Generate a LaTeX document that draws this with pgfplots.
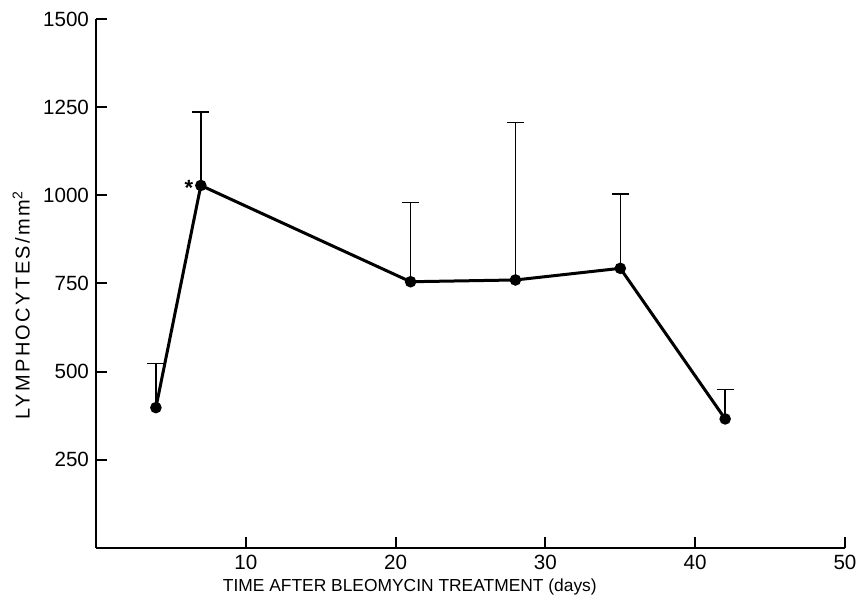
\documentclass[border=0pt]{standalone}
\usepackage{fontspec}
\setmainfont{Liberation Sans}
\usepackage{pgfplots}
\pgfplotsset{compat=1.18}
\begin{document}
\begin{tikzpicture}
\begin{axis}[name=ax, scale only axis, width=374.5pt, height=264.5pt,
  xmin=0, xmax=50, ymin=0, ymax=1500,
  axis lines=left, axis line style={line width=1pt, -},
  tick align=inside, major tick length=5.5pt,
  tick style={line width=1pt, black},
  xtick={10,20,30,40,50}, ytick={250,500,750,1000,1250,1500},
  /pgf/number format/assume math mode=true,
  /pgf/number format/1000 sep={},
  ticklabel style={font=\fontsize{10.3}{11}\selectfont},
  xlabel={TIME AFTER BLEOMYCIN TREATMENT (days)},
  ylabel={LYMPHOCYTES/mm\textsuperscript{2}},
  xlabel style={font=\fontsize{8.7}{10}\selectfont, at={(axis description cs:0.419,0)}, anchor=center, yshift=-19.5pt},
  ylabel style={font=\fontsize{10}{11}\selectfont\addfontfeatures{LetterSpace=12}, at={(axis description cs:-0.1,0.459)}, anchor=center},
  clip=false,
]
\addplot[black, line width=1.5pt, mark=*, mark size=2.1pt,
  error bars/.cd, y dir=plus, y explicit,
  error bar style={line width=0.7pt, black},
  error mark options={line width=0.8pt, mark size=4.25pt, black, rotate=90}]
  table[x=x, y=y, y error=e] {
  x y e
  4 398 125
  7 1028 208
  21 755 225
  28 760 446
  35 793 210
  42 366 83
};
\node[font=\bfseries\fontsize{11}{11}\selectfont, anchor=center] at (axis cs:6.2,1022) {*};
\end{axis}
\pgfresetboundingbox
\path ([xshift=-48pt, yshift=-25.5pt]ax.south west) rectangle ([xshift=6pt, yshift=9.5pt]ax.north east);
\end{tikzpicture}
\end{document}
